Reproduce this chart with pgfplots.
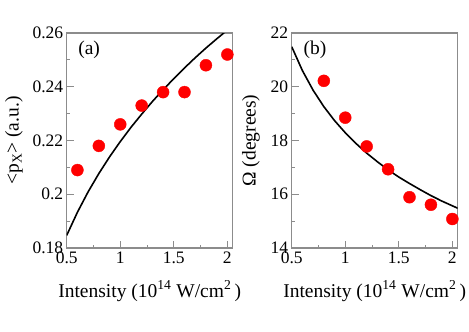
\documentclass[border=0pt]{standalone}
\usepackage{fontspec}
\setmainfont{Liberation Serif}
\usepackage{pgfplots}
\pgfplotsset{compat=1.18}

\newcommand{\lbl}{\fontsize{19.5bp}{22bp}\selectfont}

\pgfplotsset{
  panel/.style={
    scale only axis,
    width=166bp, height=215bp,
    xmin=0.5, xmax=2.05,
    xtick={0.5,1,1.5,2},
    minor x tick num=1,
    minor y tick num=1,
    tick align=inside,
    xtick pos=left, ytick pos=left,
    major tick length=7bp, minor tick length=3.5bp,
    axis line style={draw=gray!90, line width=1.1bp},
    every tick/.style={draw=gray!90, line width=1bp},
    /pgf/number format/assume math mode=true,
    tick label style={font=\fontsize{17.5bp}{20bp}\selectfont},
    label style={font=\lbl},
    xlabel={Intensity (10\textsuperscript{14}\ W/cm\textsuperscript{2}\,)},
    xlabel style={at={(axis description cs:0.5,-0.228)}, anchor=base},
    clip=true,
  },
  curve/.style={black, line width=1.6bp, no marks},
  dots/.style={only marks, mark=*, mark size=6bp, mark options={draw=red, fill=red}},
}

\begin{document}
\begin{tikzpicture}[x=1bp, y=1bp]
\useasboundingbox (0,0) rectangle (469,331);

\begin{axis}[panel, at={(66.7bp,83bp)}, anchor=south west,
    ymin=0.18, ymax=0.26,
    ytick={0.18,0.2,0.22,0.24,0.26},
    ylabel={<p\textsubscript{X}>\ (a.u.)},
    ylabel style={at={(axis description cs:-0.318,0.5)}, anchor=center},
  ]
  \addplot[curve] coordinates {
    (0.5,0.1847) (0.6,0.1933) (0.7,0.2009) (0.8,0.2077) (0.9,0.2139)
    (1.0,0.2196) (1.1,0.2249) (1.2,0.2298) (1.3,0.2345) (1.4,0.2389)
    (1.5,0.2430) (1.6,0.2470) (1.7,0.2508) (1.8,0.2544) (1.9,0.2578)
    (2.0,0.2611)
  };
  \addplot[dots] coordinates {
    (0.6,0.209) (0.8,0.218) (1.0,0.226) (1.2,0.233)
    (1.4,0.238) (1.6,0.238) (1.8,0.248) (2.0,0.252)
  };
  \node[font=\lbl] at (axis description cs:0.135,0.92) {(a)};
\end{axis}

\begin{axis}[panel, at={(291.7bp,83bp)}, anchor=south west,
    ymin=14, ymax=22,
    ytick={14,16,18,20,22},
    ylabel={Ω (degrees)},
    ylabel style={at={(axis description cs:-0.245,0.5)}, anchor=center},
  ]
  \addplot[curve] coordinates {
    (0.5,21.49) (0.6,20.60) (0.7,19.87) (0.8,19.26) (0.9,18.74)
    (1.0,18.29) (1.1,17.89) (1.2,17.53) (1.3,17.21) (1.4,16.91)
    (1.5,16.64) (1.6,16.40) (1.7,16.17) (1.8,15.95) (1.9,15.75)
    (2.0,15.57) (2.05,15.48)
  };
  \addplot[dots] coordinates {
    (0.8,20.22) (1.0,18.85) (1.2,17.78) (1.4,16.93)
    (1.6,15.89) (1.8,15.61) (2.0,15.08)
  };
  \node[font=\lbl] at (axis description cs:0.14,0.92) {(b)};
\end{axis}
\end{tikzpicture}
\end{document}
